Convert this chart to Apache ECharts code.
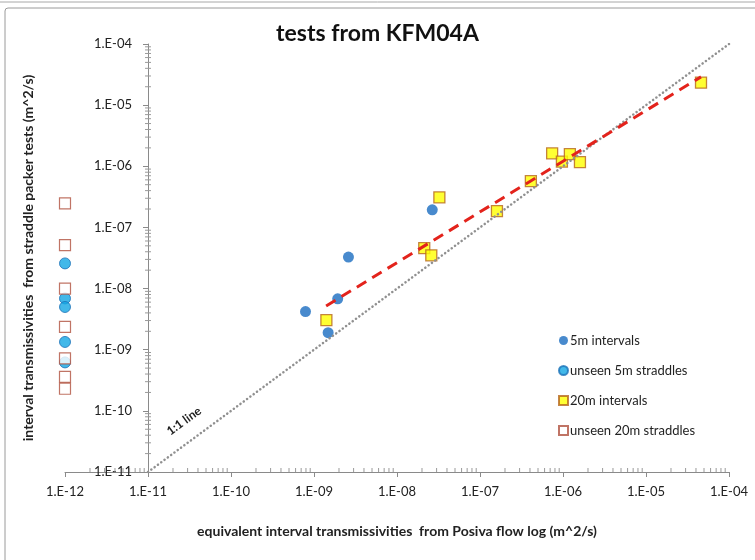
<!DOCTYPE html>
<html>
<head>
<meta charset="utf-8">
<script src="https://cdn.jsdelivr.net/npm/echarts@6/dist/echarts.min.js"></script>
<style>
  html, body { margin: 0; padding: 0; background: #fff; }
  #main { width: 755px; height: 560px; }
</style>
</head>
<body>
<div id="main"></div>
<script>
// 5m intervals: PFL transmissivity (x) vs straddle test transmissivity (y)
const fiveMX = [7.9e-10, 1.48e-9, 1.93e-9, 2.6e-9, 2.66e-8];
const fiveMY = [4.2e-9, 1.9e-9, 6.8e-9, 3.27e-8, 1.94e-7];
// 20m intervals
const twentyMX = [1.41e-9, 2.13e-8, 2.59e-8, 3.24e-8, 1.6e-7, 4.1e-7, 7.4e-7, 9.7e-7, 1.21e-6, 1.6e-6, 4.6e-5];
const twentyMY = [3.04e-9, 4.6e-8, 3.5e-8, 3.1e-7, 1.85e-7, 5.7e-7, 1.63e-6, 1.19e-6, 1.58e-6, 1.17e-6, 2.33e-5];
// unseen straddles, plotted at the left edge of the x axis
const unseenX = 1e-12;
const unseen5mY = [2.58e-8, 6.9e-9, 5.0e-9, 1.34e-9, 6.2e-10];
const unseen20mY = [2.47e-7, 5.13e-8, 1.0e-8, 2.36e-9, 7.2e-10, 3.6e-10, 2.3e-10];
// trend line (red dashed) end points and the 1:1 line
const trendX = [1.4e-9, 4.6e-5];
const trendY = [5.2e-9, 2.9e-5];
const oneToOne = [1e-11, 1e-4];
// minor tick positions (Excel style 2..9 per decade)
const xDecades = [1e-12, 1e-11, 1e-10, 1e-9, 1e-8, 1e-7, 1e-6, 1e-5];
const yDecades = [1e-11, 1e-10, 1e-9, 1e-8, 1e-7, 1e-6, 1e-5];
const minorSteps = [2, 3, 4, 5, 6, 7, 8, 9];

const FONT = 'Lato, "Open Sans", sans-serif';

function expLabel(v) {
    const e = Math.round(Math.log10(v));
    const a = Math.abs(e);
    return '1.E' + (e < 0 ? '-' : '+') + (a < 10 ? '0' + a : a);
}
function pairs(xs, ys) {
    return ys.map((y, i) => [Array.isArray(xs) ? xs[i] : xs, y]);
}
const minorTicks = [];
xDecades.forEach(d => minorSteps.forEach(m => minorTicks.push([d * m, 0])));
yDecades.forEach(d => minorSteps.forEach(m => minorTicks.push([d * m, 1])));

const chart = echarts.init(document.getElementById('main'));
const option = {
    backgroundColor: '#fff',
    animation: false,
    title: {
        text: 'tests from KFM04A',
        left: 'center',
        top: 17,
        textStyle: { fontFamily: FONT, fontSize: 23, fontWeight: 'bold', color: '#111' }
    },
    grid: { left: 65, right: 26, top: 44, bottom: 88 },
    legend: {
        orient: 'vertical',
        left: 553,
        top: 329,
        itemWidth: 9,
        itemHeight: 9,
        itemGap: 17,
        textStyle: { fontFamily: FONT, fontSize: 13, color: '#222', padding: [0, 0, 0, -3] },
        data: ['5m intervals', 'unseen 5m straddles', '20m intervals', 'unseen 20m straddles']
    },
    xAxis: {
        type: 'log',
        logBase: 10,
        min: 1e-12,
        max: 1e-4,
        name: 'equivalent interval transmissivities  from Posiva flow log (m^2/s)',
        nameLocation: 'middle',
        nameGap: 52,
        nameTextStyle: { fontFamily: FONT, fontSize: 14, fontWeight: 'bold', color: '#222' },
        axisLine: { lineStyle: { color: '#8a8a8a' } },
        axisTick: { length: 5, lineStyle: { color: '#8a8a8a' } },
        axisLabel: { formatter: expLabel, margin: 13, fontFamily: FONT, fontSize: 13, color: '#222' },
        splitLine: { show: false }
    },
    yAxis: {
        type: 'log',
        logBase: 10,
        min: 1e-11,
        max: 1e-4,
        offset: -83,
        name: 'interval transmissivities  from straddle packer tests (m^2/s)',
        nameLocation: 'middle',
        nameGap: 113,
        nameTextStyle: { fontFamily: FONT, fontSize: 14, fontWeight: 'bold', color: '#222' },
        axisLine: { show: true, lineStyle: { color: '#8a8a8a' } },
        axisTick: { show: true, length: 5, lineStyle: { color: '#8a8a8a' } },
        axisLabel: { formatter: expLabel, margin: 16, fontFamily: FONT, fontSize: 13, color: '#222' },
        splitLine: { show: false }
    },
    series: [
        {
            name: 'minor ticks',
            type: 'custom',
            silent: true,
            clip: false,
            z: 1,
            data: minorTicks,
            renderItem: function (params, api) {
                const v = api.value(0);
                if (api.value(1) === 0) {
                    const p = api.coord([v, 1e-11]);
                    return { type: 'line', shape: { x1: p[0], y1: p[1] - 4, x2: p[0], y2: p[1] },
                             style: { stroke: '#9a9a9a', lineWidth: 1 } };
                }
                const p = api.coord([1e-11, v]);
                return { type: 'line', shape: { x1: p[0] - 3, y1: p[1], x2: p[0] + 3, y2: p[1] },
                         style: { stroke: '#9a9a9a', lineWidth: 1 } };
            }
        },
        {
            name: '5m intervals',
            type: 'scatter',
            symbol: 'circle',
            symbolSize: 11,
            itemStyle: { color: '#1A6DC0' },
            data: pairs(fiveMX, fiveMY)
        },
        {
            name: 'unseen 5m straddles',
            type: 'scatter',
            symbol: 'circle',
            symbolSize: 11,
            itemStyle: { color: '#13A6E4', borderColor: '#1B72B8', borderWidth: 1 },
            data: pairs(unseenX, unseen5mY)
        },
        {
            name: '20m intervals',
            type: 'scatter',
            symbol: 'rect',
            symbolSize: 11,
            itemStyle: { color: '#FFFF00', borderColor: '#B5651D', borderWidth: 1.3 },
            data: pairs(twentyMX, twentyMY)
        },
        {
            name: 'unseen 20m straddles',
            type: 'scatter',
            symbol: 'rect',
            symbolSize: 11,
            itemStyle: { color: '#ffffff', borderColor: '#B0513F', borderWidth: 1.2 },
            data: pairs(unseenX, unseen20mY)
        },
        {
            name: '1:1 line',
            type: 'line',
            symbol: 'none',
            silent: true,
            lineStyle: { color: '#909090', width: 2.5, type: [0.1, 4], cap: 'round' },
            data: pairs(oneToOne, oneToOne)
        },
        {
            name: 'trend',
            type: 'line',
            symbol: 'none',
            silent: true,
            z: 3,
            lineStyle: { color: '#E3231C', width: 3, type: [11, 7] },
            data: pairs(trendX, trendY)
        }
    ],
    graphic: [
        { type: 'line', shape: { x1: 0, y1: 2, x2: 755, y2: 2 }, style: { stroke: '#a8a8a8', lineWidth: 1 } },
        { type: 'rect', shape: { x: 5, y: 8, width: 780, height: 600, r: 3 }, style: { fill: 'none', stroke: '#9a9a9a', lineWidth: 1 } },
        {
            type: 'text',
            x: 184,
            y: 421,
            rotation: 0.63,
            style: {
                text: '1:1 line',
                fontFamily: FONT,
                fontSize: 12,
                fontWeight: 'bold',
                fill: '#222',
                align: 'center',
                verticalAlign: 'middle'
            }
        }
    ]
};
chart.setOption(option);
</script>
</body>
</html>
